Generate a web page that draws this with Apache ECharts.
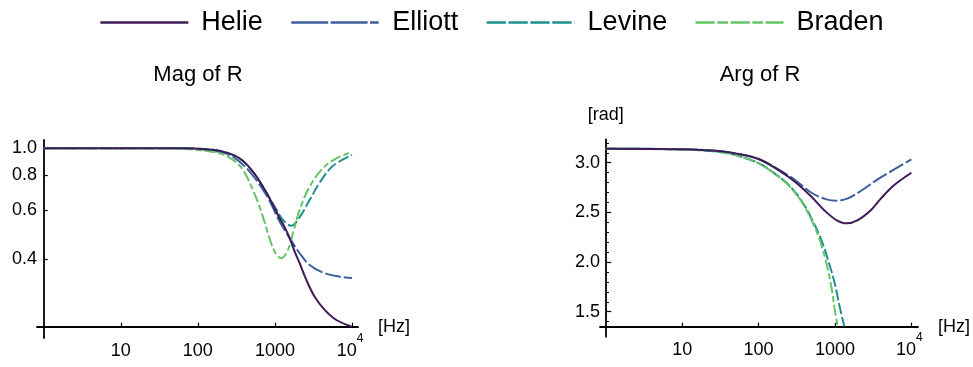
<!DOCTYPE html>
<html>
<head>
<meta charset="utf-8">
<script src="https://cdn.jsdelivr.net/npm/echarts@6/dist/echarts.min.js"></script>
<style>html,body{margin:0;padding:0;background:#fff}#c{width:973px;height:367px}</style>
</head>
<body>
<div id="c"></div>
<script>
// ---------- data (frequencies in Hz) ----------
const SERIES_NAMES = ['Helie', 'Elliott', 'Levine', 'Braden'];
const X_TICKS = [10, 100, 1000, 10000];
const MAG_TICKS = [0.4, 0.6, 0.8, 1.0];
const ARG_TICKS = [1.5, 2.0, 2.5, 3.0];
const ARG_MINOR_TICKS = [1.4, 1.6, 1.7, 1.8, 1.9, 2.1, 2.2, 2.3, 2.4, 2.6, 2.7, 2.8, 2.9, 3.1, 3.2];

// Mag of R
const F_MAG_HELIE = [1, 10, 50, 100, 200, 348, 518, 698, 897, 1094, 1337, 1553, 1803, 2094, 2557, 3280, 4420, 6270, 10000];
const MAG_HELIE   = [1.0, 1.0, 0.999, 0.996, 0.976, 0.920, 0.824, 0.728, 0.643, 0.575, 0.520, 0.475, 0.425, 0.386, 0.336, 0.292, 0.262, 0.241, 0.228];
const F_MAG_ELLIOTT = [1, 10, 50, 100, 200, 285, 469, 773, 1151, 1553, 2094, 2826, 4210, 6920, 10000];
const MAG_ELLIOTT   = [1.0, 1.0, 0.999, 0.993, 0.966, 0.933, 0.824, 0.679, 0.545, 0.475, 0.419, 0.380, 0.357, 0.345, 0.341];
const F_MAG_LEVINE = [1, 10, 50, 100, 200, 348, 518, 698, 897, 1042, 1271, 1630, 2094, 2826, 3810, 5670, 10000];
const MAG_LEVINE   = [1.0, 1.0, 0.999, 0.996, 0.976, 0.918, 0.822, 0.728, 0.645, 0.603, 0.552, 0.526, 0.565, 0.652, 0.752, 0.864, 0.946];
const F_MAG_BRADEN = [1, 10, 50, 100, 192, 285, 384, 518, 665, 811, 991, 1210, 1476, 1714, 2094, 2826, 4210, 6270, 10000];
const MAG_BRADEN   = [1.0, 1.0, 0.997, 0.985, 0.959, 0.908, 0.836, 0.708, 0.591, 0.495, 0.425, 0.402, 0.431, 0.495, 0.600, 0.728, 0.848, 0.920, 0.967];

// Arg of R [rad]
const F_ARG_HELIE = [1, 10, 30, 55, 100, 182, 299, 492, 734, 1040, 1403, 1990, 2963, 4000, 5960, 10000];
const ARG_HELIE   = [3.1416, 3.136, 3.118, 3.088, 3.038, 2.926, 2.809, 2.658, 2.517, 2.423, 2.390, 2.423, 2.524, 2.641, 2.775, 2.899];
const F_ARG_ELLIOTT = [1, 10, 30, 55, 100, 182, 299, 492, 771, 1040, 1476, 2198, 3610, 5960, 10000];
const ARG_ELLIOTT   = [3.1416, 3.136, 3.118, 3.088, 3.038, 2.933, 2.826, 2.698, 2.631, 2.617, 2.641, 2.718, 2.833, 2.933, 3.034];
const F_ARG_LEVINE = [1, 10, 30, 55, 100, 149, 245, 366, 492, 663, 811, 991, 1151, 1325];
const ARG_LEVINE   = [3.1416, 3.134, 3.110, 3.067, 2.996, 2.912, 2.780, 2.615, 2.440, 2.222, 2.020, 1.786, 1.550, 1.350];
const F_ARG_BRADEN = [1, 10, 30, 55, 100, 149, 245, 366, 492, 632, 771, 895, 1010, 1085];
const ARG_BRADEN   = [3.1416, 3.134, 3.110, 3.067, 2.994, 2.909, 2.775, 2.607, 2.423, 2.222, 1.987, 1.751, 1.483, 1.350];

// ---------- styling ----------
const FONT = "'Liberation Sans', Arial, Helvetica, sans-serif";
const COLORS = { Helie: '#3f1a58', Elliott: '#3e5e9c', Levine: '#21908d', Braden: '#66c464' };
const DASH = { Helie: 'solid', Elliott: [16, 3], Levine: [11, 3], Braden: [11, 3, 6, 3] };
const LEGEND_DASH = { Helie: 'solid', Elliott: [37, 2.4, 37, 2.4, 8.7, 2.4], Levine: [19.3, 2.6], Braden: [19.3, 2.5, 10.7, 2.5] };

const MAG_BASE = 0.228;   // magnitude at the horizontal axis
const ARG_BASE = 1.349;   // phase at the horizontal axis
const magT = v => Math.log10(v / MAG_BASE);
const argT = v => v - ARG_BASE;
const lx = f => Math.log10(f);

function pairs(fs, vs, t) { return fs.map((f, i) => [lx(f), t(vs[i])]); }

const magData = {
  Helie: pairs(F_MAG_HELIE, MAG_HELIE, magT),
  Elliott: pairs(F_MAG_ELLIOTT, MAG_ELLIOTT, magT),
  Levine: pairs(F_MAG_LEVINE, MAG_LEVINE, magT),
  Braden: pairs(F_MAG_BRADEN, MAG_BRADEN, magT)
};
const argData = {
  Helie: pairs(F_ARG_HELIE, ARG_HELIE, argT),
  Elliott: pairs(F_ARG_ELLIOTT, ARG_ELLIOTT, argT),
  Levine: pairs(F_ARG_LEVINE, ARG_LEVINE, argT),
  Braden: pairs(F_ARG_BRADEN, ARG_BRADEN, argT)
};

const xTickVals = X_TICKS.map(lx);
const xLabelFmt = v => {
  const e = Math.round(v);
  if (e >= 4) return '{b|10}{s|' + e + '}';
  return '{b|' + Math.pow(10, e) + '}';
};
const xRich = {
  b: { fontSize: 18, fontFamily: FONT, color: '#000', padding: [9, 0, 0, 0], verticalAlign: 'bottom' },
  s: { fontSize: 12, fontFamily: FONT, color: '#000', verticalAlign: 'top', lineHeight: 12, padding: [0, 4, 0, 0] }
};

function xAxisOf(gi, min, max) {
  return {
    type: 'value', gridIndex: gi, min: min, max: max,
    name: '[Hz]', nameLocation: 'end', nameGap: 20,
    nameTextStyle: { fontSize: 18, fontFamily: FONT, color: '#000', align: 'left', verticalAlign: 'middle' },
    axisLine: { show: true, onZero: true, lineStyle: { color: '#000', width: 1.8 } },
    axisTick: { show: true, inside: true, length: 4, customValues: xTickVals, lineStyle: { color: '#000', width: 1.2 } },
    axisLabel: { show: true, margin: -5, customValues: xTickVals, formatter: xLabelFmt, rich: xRich, color: '#000' },
    splitLine: { show: false }
  };
}

const magTickVals = MAG_TICKS.map(magT);
const argTickVals = ARG_TICKS.map(argT);
const argMinorVals = ARG_MINOR_TICKS.map(argT);

const option = {
  animation: false,
  backgroundColor: '#fff',
  textStyle: { fontFamily: FONT },
  legend: {
    show: true, top: 9, left: 99, padding: 0, itemWidth: 88, itemHeight: 14, itemGap: 27,
    textStyle: { fontSize: 27, fontFamily: FONT, color: '#000', padding: [0, 0, 0, 8] },
    data: SERIES_NAMES.map(n => ({
      name: n,
      itemStyle: { opacity: 0 },
      lineStyle: { color: COLORS[n], width: 2.7, type: LEGEND_DASH[n] }
    }))
  },
  graphic: [
    { type: 'text', x: 198, y: 75, style: { text: 'Mag of R', font: '22px ' + FONT, fill: '#000', align: 'center', verticalAlign: 'middle' } },
    { type: 'text', x: 760, y: 75, style: { text: 'Arg of R', font: '22px ' + FONT, fill: '#000', align: 'center', verticalAlign: 'middle' } }
  ],
  grid: [
    { left: 37, top: 140, width: 321, height: 198, containLabel: false },
    { left: 600, top: 139.3, width: 320, height: 197.4, containLabel: false }
  ],
  xAxis: [
    xAxisOf(0, -0.087, 4.078),
    xAxisOf(1, -0.0754, 4.086)
  ],
  yAxis: [
    {
      type: 'value', gridIndex: 0, min: -0.0406, max: 0.6716,
      axisLine: { show: true, onZero: true, lineStyle: { color: '#000', width: 1.8 } },
      axisTick: { show: true, inside: true, length: 4, customValues: magTickVals, lineStyle: { color: '#000', width: 1.2 } },
      axisLabel: { show: true, margin: 0, customValues: magTickVals, fontSize: 18, fontFamily: FONT, color: '#000',
        formatter: v => (MAG_BASE * Math.pow(10, v)).toFixed(1) },
      splitLine: { show: false }
    },
    {
      type: 'value', gridIndex: 1, position: 'left', min: -0.1007, max: 1.887,
      name: '[rad]', nameLocation: 'end', nameGap: 15,
      nameTextStyle: { fontSize: 18, fontFamily: FONT, color: '#000' },
      axisLine: { show: true, onZero: true, onZeroAxisIndex: 1, lineStyle: { color: '#000', width: 1.8 } },
      axisTick: { show: true, inside: true, length: 5.5, customValues: argTickVals, lineStyle: { color: '#000', width: 1.2 } },
      axisLabel: { show: true, margin: 0, customValues: argTickVals, fontSize: 18, fontFamily: FONT, color: '#000',
        formatter: v => (v + ARG_BASE).toFixed(1) },
      splitLine: { show: false }
    },
    {
      type: 'value', gridIndex: 1, position: 'left', min: -0.1007, max: 1.887,
      axisLine: { show: false, onZero: true, onZeroAxisIndex: 1 },
      axisTick: { show: true, inside: true, length: 3.2, customValues: argMinorVals, lineStyle: { color: '#000', width: 1.1 } },
      axisLabel: { show: false },
      splitLine: { show: false }
    }
  ],
  series: []
};

SERIES_NAMES.forEach(n => {
  option.series.push({
    name: n, type: 'line', xAxisIndex: 0, yAxisIndex: 0, data: magData[n],
    smooth: 0.35, symbol: 'none', clip: true, z: n === 'Helie' ? 3 : 2,
    lineStyle: { color: COLORS[n], width: 2, type: DASH[n] }, itemStyle: { color: COLORS[n] }
  });
  option.series.push({
    name: n, type: 'line', xAxisIndex: 1, yAxisIndex: 1, data: argData[n],
    smooth: 0.35, symbol: 'none', clip: true, z: n === 'Helie' ? 3 : 2,
    lineStyle: { color: COLORS[n], width: 2, type: DASH[n] }, itemStyle: { color: COLORS[n] }
  });
});

const chart = echarts.init(document.getElementById('c'), null, { renderer: 'canvas' });
chart.setOption(option);
</script>
</body>
</html>
